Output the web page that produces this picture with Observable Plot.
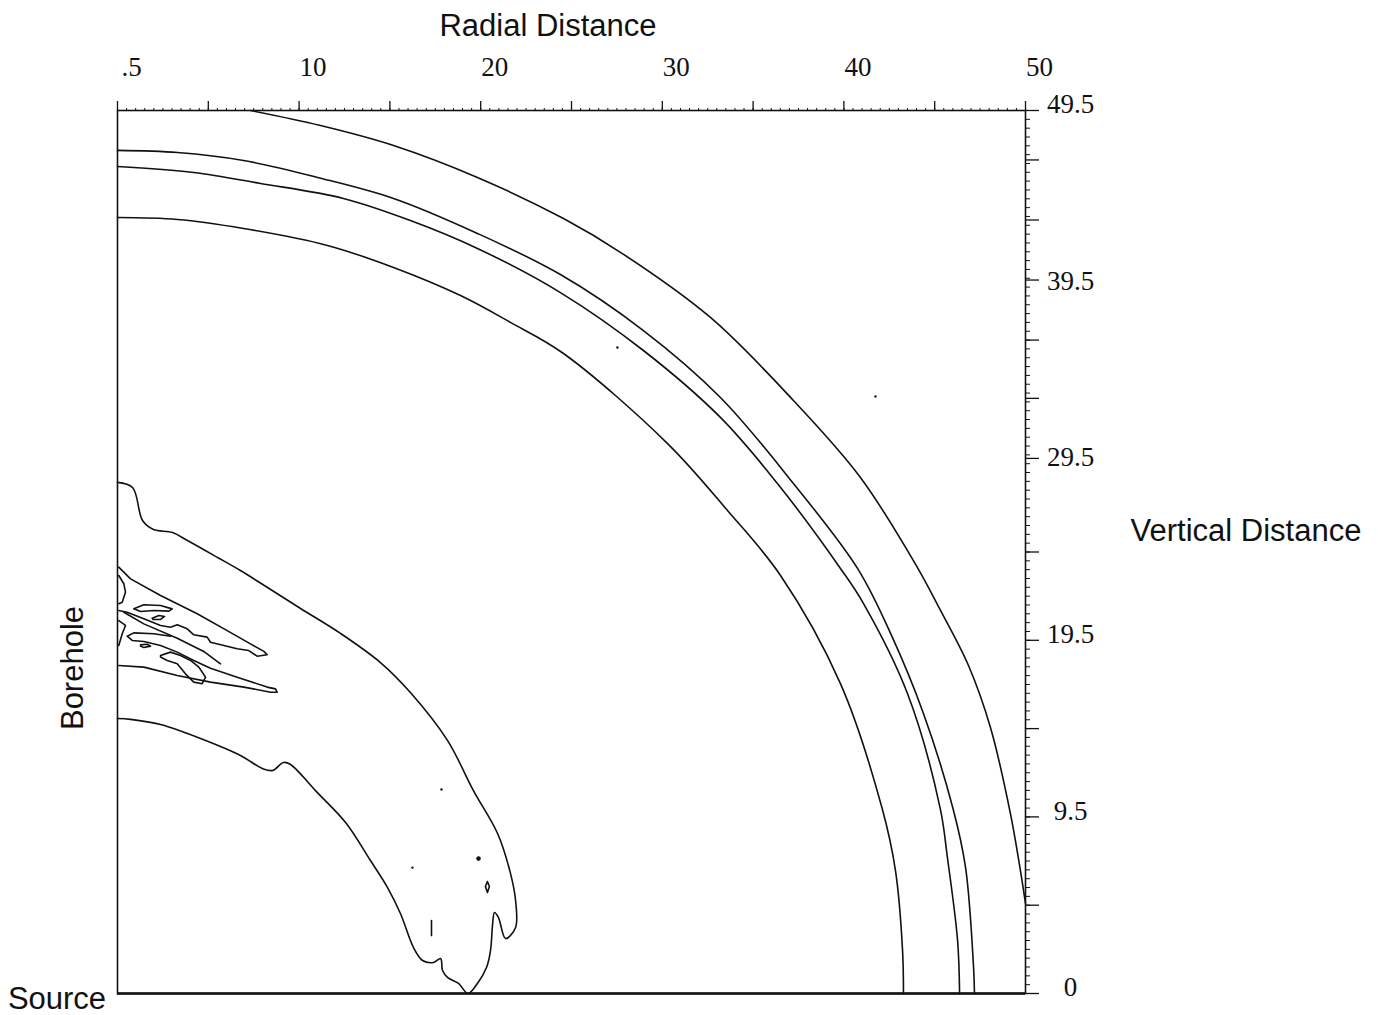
<!DOCTYPE html>
<html><head><meta charset="utf-8">
<script src="https://cdn.jsdelivr.net/npm/d3@7"></script>
<script src="https://cdn.jsdelivr.net/npm/@observablehq/plot@0.6"></script>
<style>
html,body{margin:0;padding:0;background:#fff;}
#wrap{position:relative;width:1378px;height:1015px;overflow:hidden;background:#fff;}
.lbl{position:absolute;font-family:"Liberation Sans",Arial,sans-serif;font-size:31px;color:#111;white-space:nowrap;line-height:1;}
</style></head><body><div id="wrap"></div>
<script>
// ---- tick labels ----
const xTickValues = [0, 10, 20, 30, 40, 50];
const xTickLabels = [".5", "10", "20", "30", "40", "50"];
const yTickValues = [0, 10, 20, 30, 40, 50];
const yTickLabels = ["0", "9.5", "19.5", "29.5", "39.5", "49.5"];
const xMajorTicks = [0, 5, 10, 15, 20, 25, 30, 35, 40, 45, 50];
const yMajorTicks = [0, 5, 10, 15, 20, 25, 30.3, 33.7, 37, 40.4, 43.8, 47.2, 50];

// ---- smooth contour lines (radial distance, vertical distance) ----
const arcA = [[7.32,50.0],[11.18,49.15],[15.20,48.02],[19.82,46.21],[24.56,43.88],[27.8,41.9],[32.65,38.28],[37.22,33.58],[40.91,29.22],[44.05,24.12],[45.32,21.69],[46.86,18.57],[48.07,15.06],[49.17,10.19],[49.72,6.96],[50,5.10]];
const arcB = [[0,47.74],[3.30,47.62],[6.94,47.17],[11.01,46.21],[15.20,45.02],[19.82,43.04],[24.39,40.71],[28.96,37.54],[33.20,33.75],[37.22,28.88],[40.75,24.07],[42.57,20.39],[44.38,15.86],[46.0,10.5],[46.70,7.13],[47.14,1.47],[47.19,0]];
const arcC = [[0,46.83],[4.19,46.49],[7.87,45.87],[12.44,45.02],[16.13,43.77],[19.82,42.19],[24.39,39.69],[28.96,36.41],[33.20,32.62],[36.34,28.88],[39.81,24.07],[41.08,22.08],[43.50,16.99],[45.3,10.5],[45.70,7.70],[46.26,3.00],[46.37,0]];
const arcD = [[0,43.94],[3.30,43.83],[6.94,43.32],[11.56,42.36],[15.20,41.11],[18.89,39.52],[21.64,38.00],[24.56,36.24],[30.29,31.14],[33.59,27.35],[36.51,23.67],[39.81,17.55],[42.1,10.5],[42.84,6.96],[43.23,2.43],[43.28,0]];
const banana = [[0,28.94],[0.83,28.65],[1.38,26.78],[1.98,26.27],[3.03,26.10],[3.85,25.65],[5.51,24.69],[6.77,23.95],[8.26,22.99],[10.08,21.80],[12.28,20.39],[14.48,18.74],[16.13,17.04],[18.17,14.33],[19.60,11.49],[20.93,9.06],[21.64,6.80],[21.92,5.27],[21.92,3.74],[21.37,3.11],[20.98,4.30],[20.76,4.59],[20.65,3.85],[20.54,2.43],[20.32,1.47],[19.82,0.57],[19.3,0],[18.78,0.57],[18.17,0.91],[17.90,1.30],[17.79,1.98],[17.40,1.76],[16.80,1.87],[16.30,2.60],[15.58,4.53],[14.87,6.00],[13.93,7.53],[12.56,9.68],[10.90,11.49],[9.53,12.97],[9.14,13.08],[8.54,12.63],[7.98,12.74],[6.77,13.48],[4.57,14.44],[2.37,15.23],[0.72,15.52],[0,15.57]];

// ---- small irregular contours near the borehole ----
const fanUpper = [[0.07,24.14],[0.72,23.48],[2.37,22.54],[4.39,21.50],[6.04,20.55],[7.32,19.80],[8.06,19.37],[8.24,19.18],[7.69,19.10],[7.23,19.42],[6.59,19.52],[5.86,19.71],[5.12,19.89],[4.94,20.18],[4.20,20.31],[3.84,20.65],[3.29,20.88],[2.92,20.74],[2.37,20.84],[1.45,21.22],[0.53,21.59],[0.07,21.69]];
const fanMiddle = [[0.35,21.59],[1.45,20.93],[3.29,20.12],[4.75,19.37],[5.67,18.67]];
const fanLower = [[0.07,18.57],[1.45,18.48],[3.29,18.01],[5.12,17.63],[6.96,17.35],[8.43,17.06],[8.79,17.06],[8.70,17.25],[8.24,17.35],[6.59,17.91],[5.12,18.42],[4.20,18.86],[3.29,19.33],[2.37,19.71],[1.45,19.93],[0.81,19.99],[0.53,20.23],[0.90,20.42],[2.00,20.37],[2.92,20.23]];
const loopUpper = [[0.90,21.78],[1.45,22.01],[2.37,21.97],[3.01,21.78],[2.83,21.65],[2.00,21.69],[1.27,21.63],[0.90,21.78]];
const loopSmall = [[1.91,21.25],[2.28,21.40],[2.59,21.35],[2.37,21.18],[1.96,21.18],[1.91,21.25]];
const loopTiny = [[1.27,19.74],[1.63,19.78],[1.82,19.67],[1.45,19.59],[1.27,19.67],[1.27,19.74]];
const loopChain = [[2.37,19.14],[2.92,19.33],[3.47,19.14],[4.02,18.86],[4.48,18.48],[4.85,17.91],[4.66,17.54],[4.20,17.63],[3.74,18.10],[3.29,18.67],[2.74,18.86],[2.37,19.05],[2.37,19.14]];
const edgeLoop = [[0.07,23.67],[0.35,23.20],[0.44,22.73],[0.26,22.16],[0.07,22.07]];
const edgeLine = [[0.07,21.12],[0.44,20.84],[0.26,20.37],[0.07,19.71]];
const smallRing = [[20.37,6.34],[20.48,6.06],[20.37,5.72],[20.26,6.06],[20.37,6.34]];
const oneMark = [[17.29,4.13],[17.29,3.28]];

const smoothContours = {arcA, arcB, arcC, arcD, banana};
const roughContours = {fanUpper, fanMiddle, fanLower, loopUpper, loopSmall, loopTiny, loopChain, edgeLoop, edgeLine, smallRing, oneMark};

// isolated specks
const specks = [[27.53,36.58],[17.84,11.55],[16.24,7.13],[41.74,33.81]];
const blobs = [[19.88,7.64]];

const toRows = obj => Object.entries(obj).flatMap(([id, pts]) => pts.map(([x, y]) => ({id, x, y})));
const smoothRows = toRows(smoothContours);
const roughRows = toRows(roughContours);

const xMinor = d3.range(0, 50.001, 0.5);
const yMinor = d3.range(0, 50.001, 0.5);

const chart = Plot.plot({
  width: 1378, height: 1015,
  marginLeft: 117, marginRight: 353, marginTop: 110, marginBottom: 22,
  x: {domain: [0, 50], label: null},
  y: {domain: [0, 50], label: null},
  style: {fontFamily: '"Liberation Serif","Times New Roman",serif', fontSize: "27px", background: "white", color: "#111", overflow: "visible"},
  marks: [
    Plot.axisX(xMinor, {anchor: "top", tickSize: 3, tickFormat: () => "", label: null}),
    Plot.axisX(xMajorTicks, {anchor: "top", tickSize: 10, tickFormat: () => "", label: null, strokeWidth: 1.3}),
    Plot.axisX(xTickValues, {anchor: "top", tickSize: 0, tickPadding: 35, dx: 14, label: null, fontSize: 27,
      tickFormat: d => xTickLabels[xTickValues.indexOf(d)]}),
    Plot.axisY(yMinor, {anchor: "right", tickSize: 4, tickFormat: () => "", label: null}),
    Plot.axisY(yMajorTicks, {anchor: "right", tickSize: 13, tickFormat: () => "", label: null, strokeWidth: 1.3}),
    Plot.axisY(yTickValues, {anchor: "right", tickSize: 0, tickPadding: 45, textAnchor: "middle", dy: -6, label: null, fontSize: 27,
      tickFormat: d => yTickLabels[yTickValues.indexOf(d)]}),
    Plot.frame({stroke: "#111", strokeWidth: 1.6}),
    Plot.ruleY([0], {stroke: "#111", strokeWidth: 2.6}),
    Plot.line(smoothRows, {x: "x", y: "y", z: "id", stroke: "#111", strokeWidth: 1.6, curve: "catmull-rom"}),
    Plot.line(roughRows, {x: "x", y: "y", z: "id", stroke: "#111", strokeWidth: 1.6}),
    Plot.dot(specks, {x: d => d[0], y: d => d[1], r: 1.2, fill: "#111", stroke: null}),
    Plot.dot(blobs, {x: d => d[0], y: d => d[1], r: 2.3, fill: "#111", stroke: null})
  ]
});

const wrap = document.getElementById("wrap");
wrap.appendChild(chart);

function addLabel(text, cx, cy, rotate) {
  const el = document.createElement("div");
  el.className = "lbl";
  el.textContent = text;
  el.style.left = cx + "px";
  el.style.top = cy + "px";
  el.style.transform = "translate(-50%,-50%)" + (rotate ? " rotate(" + rotate + "deg)" : "");
  wrap.appendChild(el);
}
addLabel("Radial Distance", 548, 25);
addLabel("Vertical Distance", 1246, 530);
addLabel("Borehole", 72, 668, -90);
addLabel("Source", 57, 998);
</script></body></html>
